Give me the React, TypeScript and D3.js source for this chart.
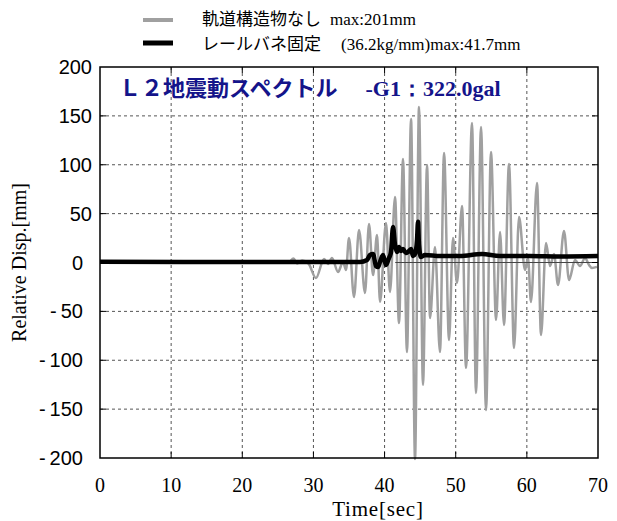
import React, { useRef, useEffect } from 'react';
import * as d3 from 'd3';

// gray trace: 軌道構造物なし (time sec, disp mm), extrema
const grayTime = [0, 10, 20, 26.5, 27.2, 27.7, 28.4, 29.3, 30.36, 31.49, 32.05, 32.61, 33.46, 34.16, 34.58, 35.0, 35.7, 36.41, 37.25, 37.81, 38.38, 38.94, 39.36, 40.2, 40.76, 41.47, 42.03, 42.59, 43.15, 43.72, 44.28, 44.84, 45.4, 45.97, 46.39, 47.09, 47.79, 48.36, 49.06, 49.62, 50.18, 50.89, 51.45, 52.29, 52.85, 53.56, 54.26, 54.96, 55.67, 56.23, 56.79, 57.49, 58.2, 58.9, 59.74, 60.16, 60.58, 61.43, 61.99, 62.69, 63.26, 63.82, 64.38, 65.22, 65.93, 66.77, 67.47, 68.18, 68.74, 69.16, 69.86];
const grayDisp = [0, 0, 0, 0, 4, -1, 2, -1, -15.9, 3.6, -1.5, 4.6, -9.7, 0.5, -7.7, 25.1, -35.3, 33.2, -31.2, 39.4, -12.8, 28.1, -40.4, 40.4, -30.2, 67.0, -61.9, 105.9, -91.6, 146.8, -201, 159.1, -125.3, 99.7, -56.8, 15.9, -91.6, 112.0, -79.3, 25.1, -21.0, 57.8, -107.9, 142.7, -133.5, 138.6, -150.9, 113.0, -58.8, 31.2, -63.9, 100.8, -87.5, 46.5, -7.7, 4.6, -40.4, 81.3, -74.2, 19.9, -3.6, 8.7, -23.0, 32.2, -17.9, 2.6, -3.6, 4.6, -2.6, -5.6, -4.5];

// black trace: レールバネ固定
const blackTime = [0, 20, 36.55, 37.53, 37.96, 38.38, 38.8, 39.08, 39.36, 39.78, 40.2, 40.62, 40.9, 41.19, 41.47, 41.75, 42.03, 42.31, 42.59, 43.01, 43.29, 43.72, 44.0, 44.28, 44.56, 44.7, 44.84, 45.12, 45.68, 47.79, 50.6, 53.7, 56.2, 60.4, 64.7, 70];
const blackDisp = [0.8, 0.5, 0.5, 2.6, 7.7, 8.7, -3.6, -4.6, 0.5, 7.7, -2.6, 4.6, 10.7, 36.3, 17.9, 10.7, 15.9, 11.8, 13.8, 9.7, 10.7, 13.8, 6.6, 8.7, 23.0, 41.7, 17.9, 5.6, 7.7, 6.6, 6.6, 8.7, 6.6, 6.6, 6.1, 6.6];

// thin reference line at zero
const refTime = [41.5, 70];
const refDisp = [0, 0];

const xTicks = [0, 10, 20, 30, 40, 50, 60, 70];
const yTicks = [200, 150, 100, 50, 0, -50, -100, -150, -200];

const W = 617;
const H = 521;
const margin = { left: 100, right: 19, top: 67, bottom: 63 };

export default function App() {
  const ref = useRef<SVGSVGElement>(null);

  useEffect(() => {
    const svg = d3.select(ref.current);
    svg.selectAll('*').remove();

    const x = d3.scaleLinear().domain([0, 70]).range([margin.left, W - margin.right]);
    const y = d3.scaleLinear().domain([-200, 200]).range([H - margin.bottom, margin.top]);

    // grid
    const grid = svg.append('g').attr('stroke', '#555').attr('stroke-dasharray', '3,3').attr('stroke-width', 1);
    grid.selectAll('.gx').data(xTicks.slice(1, -1)).enter().append('line')
      .attr('x1', (d) => x(d)).attr('x2', (d) => x(d))
      .attr('y1', y(200)).attr('y2', y(-200));
    grid.selectAll('.gy').data(yTicks.slice(1, -1).filter((d) => d !== 0)).enter().append('line')
      .attr('x1', x(0)).attr('x2', x(70))
      .attr('y1', (d) => y(d)).attr('y2', (d) => y(d));

    const plot = svg.append('g');
    const line = d3.line<[number, number]>()
      .x((d) => x(d[0])).y((d) => y(d[1]))
      .curve(d3.curveMonotoneX);

    plot.append('path')
      .datum(grayTime.map((t, i) => [t, grayDisp[i]] as [number, number]))
      .attr('fill', 'none').attr('stroke', '#a0a0a0').attr('stroke-width', 2.5)
      .attr('d', line);

    plot.append('path')
      .datum(refTime.map((t, i) => [t, refDisp[i]] as [number, number]))
      .attr('fill', 'none').attr('stroke', '#444').attr('stroke-width', 1)
      .attr('d', d3.line<[number, number]>().x((d) => x(d[0])).y((d) => y(d[1])));

    plot.append('path')
      .datum(blackTime.map((t, i) => [t, blackDisp[i]] as [number, number]))
      .attr('fill', 'none').attr('stroke', '#000').attr('stroke-width', 4.5)
      .attr('stroke-linejoin', 'round')
      .attr('d', line);

    // frame
    svg.append('rect')
      .attr('x', x(0)).attr('y', y(200))
      .attr('width', x(70) - x(0)).attr('height', y(-200) - y(200))
      .attr('fill', 'none').attr('stroke', '#000').attr('stroke-width', 1.5);

    // inward ticks
    const tk = svg.append('g').attr('stroke', '#000').attr('stroke-width', 1);
    xTicks.slice(1, -1).forEach((d) => {
      tk.append('line').attr('x1', x(d)).attr('x2', x(d)).attr('y1', y(-200)).attr('y2', y(-200) - 6);
      tk.append('line').attr('x1', x(d)).attr('x2', x(d)).attr('y1', y(200)).attr('y2', y(200) + 6);
    });
    yTicks.slice(1, -1).forEach((d) => {
      tk.append('line').attr('x1', x(0)).attr('x2', x(0) + 6).attr('y1', y(d)).attr('y2', y(d));
      tk.append('line').attr('x1', x(70)).attr('x2', x(70) - 6).attr('y1', y(d)).attr('y2', y(d));
    });

    // tick labels
    svg.append('g').selectAll('text').data(yTicks).enter().append('text')
      .attr('x', (d) => (d > 0 ? 92 : 83)).attr('y', (d) => y(d) + 7)
      .attr('text-anchor', 'end')
      .attr('font-family', '"Liberation Sans", Arial, sans-serif')
      .attr('font-size', 20)
      .text((d) => (d < 0 ? '-' + '\u2009' + Math.abs(d) : String(d)));

    svg.append('g').selectAll('text').data(xTicks).enter().append('text')
      .attr('x', (d) => x(d)).attr('y', 492)
      .attr('text-anchor', 'middle')
      .attr('font-family', '"Liberation Serif", "Times New Roman", serif')
      .attr('font-size', 20)
      .text((d) => String(d));

    // axis titles
    svg.append('text')
      .attr('x', 378).attr('y', 516)
      .attr('text-anchor', 'middle')
      .attr('font-family', '"Liberation Serif", "Times New Roman", serif')
      .attr('font-size', 21)
      .attr('letter-spacing', 0.8)
      .text('Time[sec]');

    svg.append('text')
      .attr('transform', `translate(26,${(y(200) + y(-200)) / 2}) rotate(-90)`)
      .attr('text-anchor', 'middle')
      .attr('font-family', '"Liberation Serif", "Times New Roman", serif')
      .attr('font-size', 20)
      .text('Relative Disp.[mm]');

    // title inside plot
    const title = svg.append('text')
      .attr('x', 119).attr('y', 96)
      .attr('fill', '#14148a')
      .attr('font-weight', 'bold')
      .attr('font-size', 22);
    title.append('tspan')
      .attr('font-family', '"Noto Sans CJK JP", sans-serif')
      .text('Ｌ２地震動スペクトル');
    title.append('tspan')
      .attr('dx', 28)
      .attr('font-family', '"Liberation Serif", "Times New Roman", serif')
      .text('-G1：322.0gal');

    // legend
    const lg = svg.append('g');
    lg.append('line').attr('x1', 143).attr('x2', 173).attr('y1', 20).attr('y2', 20)
      .attr('stroke', '#a0a0a0').attr('stroke-width', 4);
    lg.append('line').attr('x1', 143).attr('x2', 173).attr('y1', 43).attr('y2', 43)
      .attr('stroke', '#000').attr('stroke-width', 5);

    const t1 = lg.append('text').attr('x', 202).attr('y', 25);
    t1.append('tspan').attr('font-family', '"Noto Sans CJK JP", sans-serif').attr('font-size', 17).text('軌道構造物なし');
    t1.append('tspan').attr('dx', 9).attr('font-family', '"Liberation Serif", serif').attr('font-size', 17).text('max:201mm');

    const t2 = lg.append('text').attr('x', 202).attr('y', 50);
    t2.append('tspan').attr('font-family', '"Noto Sans CJK JP", sans-serif').attr('font-size', 17).text('レールバネ固定');
    t2.append('tspan').attr('dx', 20).attr('font-family', '"Liberation Serif", serif').attr('font-size', 17).text('(36.2kg/mm)max:41.7mm');
  }, []);

  return (
    <svg ref={ref} width={W} height={H}
      style={{ position: 'absolute', left: 0, top: 0, background: '#fff' }} />
  );
}
